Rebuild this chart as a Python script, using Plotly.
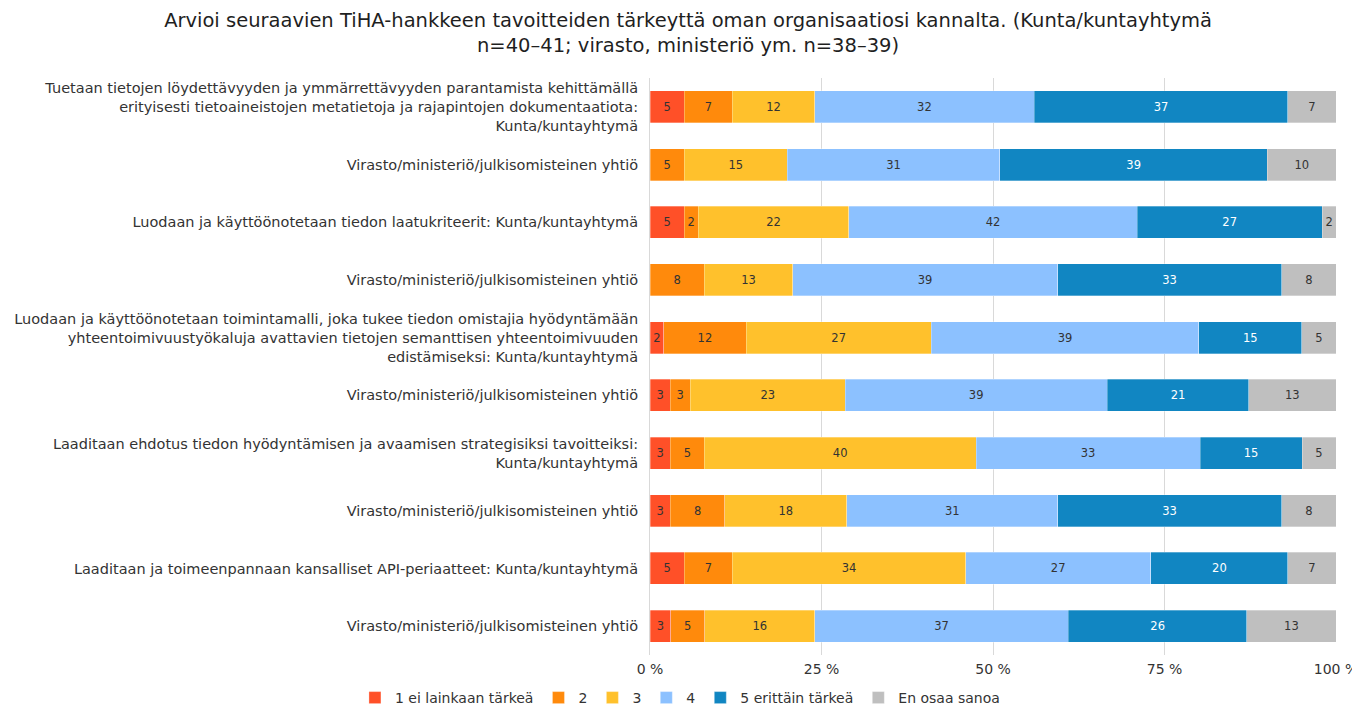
import plotly.graph_objects as go

categories = [
    "Tuetaan tietojen löydettävyyden ja ymmärrettävyyden parantamista kehittämällä<br>erityisesti tietoaineistojen metatietoja ja rajapintojen dokumentaatiota:<br>Kunta/kuntayhtymä",
    "Virasto/ministeriö/julkisomisteinen yhtiö",
    "Luodaan ja käyttöönotetaan tiedon laatukriteerit: Kunta/kuntayhtymä",
    "Virasto/ministeriö/julkisomisteinen yhtiö",
    "Luodaan ja käyttöönotetaan toimintamalli, joka tukee tiedon omistajia hyödyntämään<br>yhteentoimivuustyökaluja avattavien tietojen semanttisen yhteentoimivuuden<br>edistämiseksi: Kunta/kuntayhtymä",
    "Virasto/ministeriö/julkisomisteinen yhtiö",
    "Laaditaan ehdotus tiedon hyödyntämisen ja avaamisen strategisiksi tavoitteiksi:<br>Kunta/kuntayhtymä",
    "Virasto/ministeriö/julkisomisteinen yhtiö",
    "Laaditaan ja toimeenpannaan kansalliset API-periaatteet: Kunta/kuntayhtymä",
    "Virasto/ministeriö/julkisomisteinen yhtiö",
]

series_names = ["1 ei lainkaan tärkeä", "2", "3", "4", "5 erittäin tärkeä", "En osaa sanoa"]
v1 = [5, 0, 5, 0, 2, 3, 3, 3, 5, 3]
v2 = [7, 5, 2, 8, 12, 3, 5, 8, 7, 5]
v3 = [12, 15, 22, 13, 27, 23, 40, 18, 34, 16]
v4 = [32, 31, 42, 39, 39, 39, 33, 31, 27, 37]
v5 = [37, 39, 27, 33, 15, 21, 15, 33, 20, 26]
v6 = [7, 10, 2, 8, 5, 13, 5, 8, 7, 13]
series_values = [v1, v2, v3, v4, v5, v6]
colors = ["#FF5028", "#FF8A0C", "#FFC12C", "#8CC1FF", "#1186C2", "#BFBFBF"]
text_colors = ["#333333", "#333333", "#333333", "#333333", "#FFFFFF", "#333333"]

tick_vals = [0, 25, 50, 75, 100]

positions = list(range(len(categories)))
FONT = "DejaVu Sans, sans-serif"

fig = go.Figure()
for name, vals, col, tcol in zip(series_names, series_values, colors, text_colors):
    fig.add_trace(go.Bar(
        y=positions,
        x=vals,
        name=name,
        orientation="h",
        marker=dict(color=col, line=dict(color="rgba(255,255,255,0.6)", width=0.5)),
        text=[str(v) if v > 0 else "" for v in vals],
        textposition="inside",
        insidetextanchor="middle",
        textangle=0,
        textfont=dict(size=11.5, color=tcol, family=FONT),
        constraintext="none",
        hoverinfo="x+y+name",
    ))

fig.update_layout(
    barmode="stack",
    barnorm="percent",
    bargap=0.445,
    width=1352,
    height=706,
    paper_bgcolor="white",
    plot_bgcolor="white",
    font=dict(family=FONT, color="#333333"),
    title=dict(
        text="Arvioi seuraavien TiHA-hankkeen tavoitteiden tärkeyttä oman organisaatiosi kannalta. (Kunta/kuntayhtymä<br>n=40–41; virasto, ministeriö ym. n=38–39)",
        x=0.503,
        xanchor="center",
        xref="container",
        yref="container",
        y=0.973,
        yanchor="middle",
        font=dict(size=19.5, color="#1F1F1F", family=FONT),
    ),
    margin=dict(l=642, r=24, t=70, b=59),
    uniformtext=dict(minsize=11, mode="show"),
    legend=dict(
        orientation="h",
        xref="container",
        yref="container",
        x=0.497,
        xanchor="center",
        y=0.0,
        yanchor="bottom",
        font=dict(size=14, color="#333333", family=FONT),
        traceorder="normal",
        itemwidth=30,
    ),
)

fig.update_xaxes(
    range=[0, 100],
    tickvals=tick_vals,
    ticktext=[f"{t} %" for t in tick_vals],
    showgrid=True,
    gridcolor="#D9D9D9",
    gridwidth=1,
    zeroline=False,
    showline=False,
    automargin=False,
    ticklabelstandoff=4,
    tickfont=dict(size=14, color="#333333", family=FONT),
    fixedrange=True,
)
fig.update_yaxes(
    tickvals=positions,
    ticktext=categories,
    autorange="reversed",
    automargin=False,
    showgrid=False,
    zeroline=False,
    showline=True,
    linecolor="#D9D9D9",
    linewidth=1,
    ticks="",
    ticklabelstandoff=8,
    tickfont=dict(size=14.5, color="#333333", family=FONT),
)

fig.write_html("out.html")
